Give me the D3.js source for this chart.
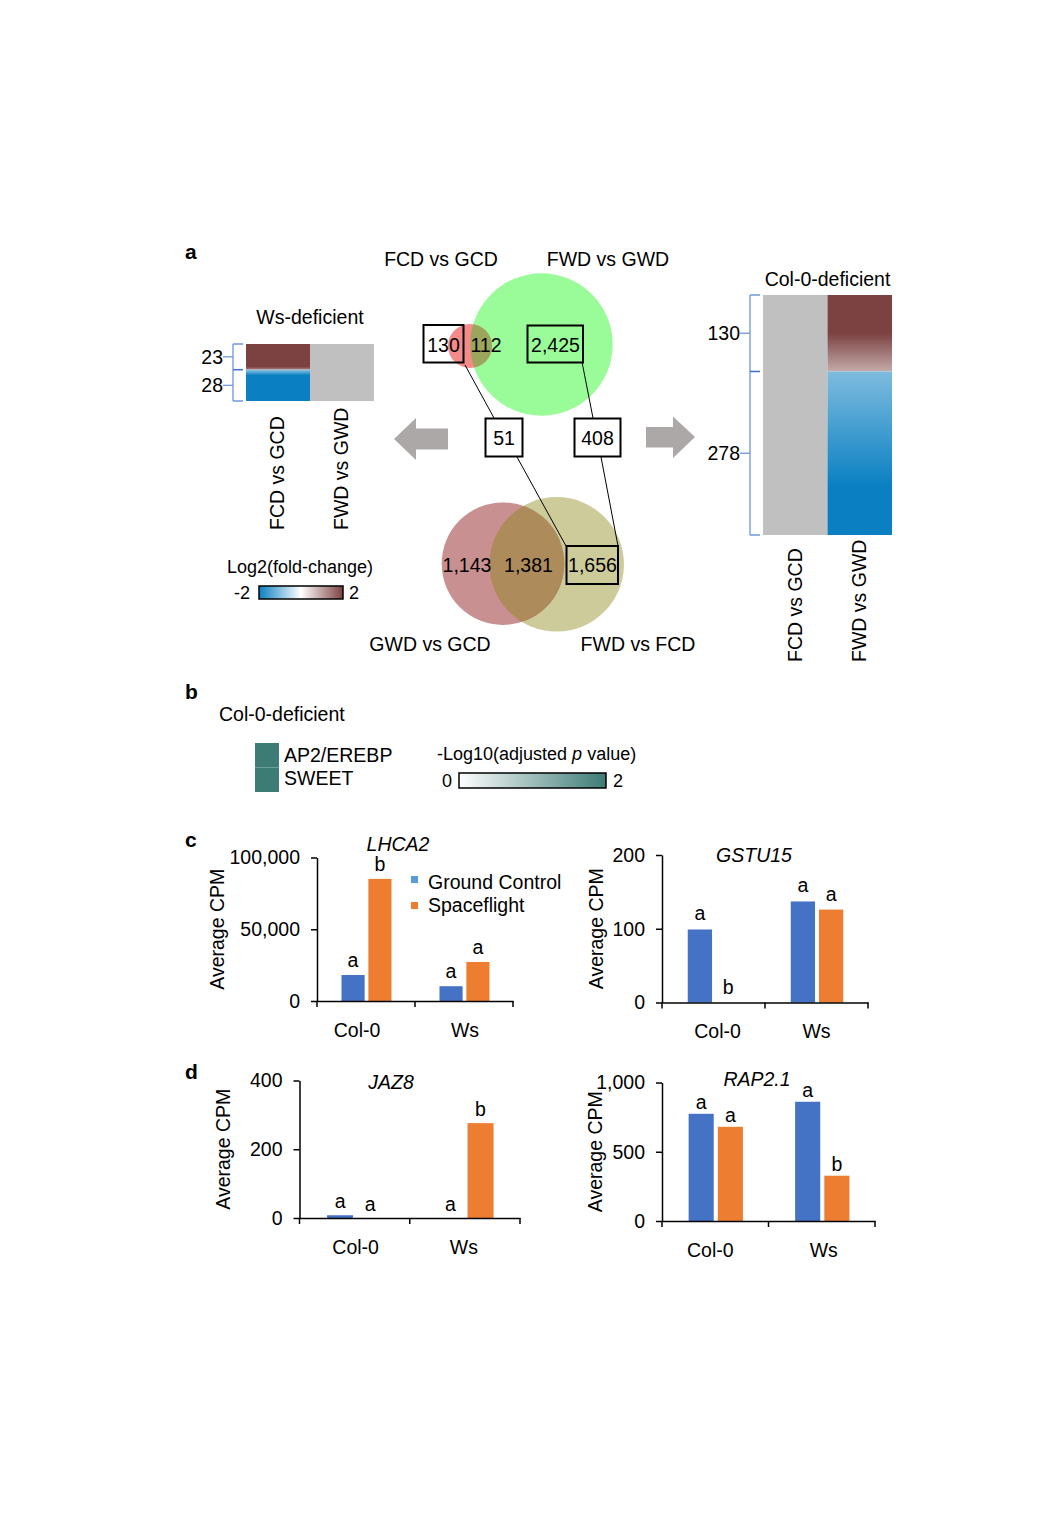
<!DOCTYPE html>
<html><head><meta charset="utf-8">
<script src="https://cdn.jsdelivr.net/npm/d3@7"></script>
<style>
body{margin:0;background:#fff}
svg{display:block}
text{font-family:"Liberation Sans",Arial,Helvetica,sans-serif;fill:#000}
</style>
</head><body>
<svg id="fig" width="1063" height="1535"></svg>
<script>
// ================= DATA =================
// Panel a : Venn diagrams
const vennTopSets = ["FCD vs GCD", "FWD vs GWD"];
const vennTopCounts = [130, 112, 2425];          // only FCD, shared, only FWD
const vennBottomSets = ["GWD vs GCD", "FWD vs FCD"];
const vennBottomCounts = [1143, 1381, 1656];     // only GWD, shared, only FWD
const flowCounts = [51, 408];                    // Ws-deficient, Col-0-deficient
// Panel a : heatmaps
const heatColumns = ["FCD vs GCD", "FWD vs GWD"];
const wsBlockCounts = [23, 28];
const colBlockCounts = [130, 278];
// log2 fold-change profile inside blocks: [fraction of block, value]
const wsFcdUp = [[0, 2], [0.88, 2], [1, 1.3]];
const wsFcdDown = [[0, -0.9], [0.18, -2], [1, -2]];
const colFwdUp = [[0, 2], [0.5, 2], [1, 0.9]];
const colFwdDown = [[0, -1.05], [0.7, -2], [1, -2]];
const log2Range = [-2, 2];
// Panel b
const enrichTerms = ["AP2/EREBP", "SWEET"];
const enrichValues = [2, 2];
const pRange = [0, 2];
// Panel c / d
const groups = ["Col-0", "Ws"];
const seriesNames = ["Ground Control", "Spaceflight"];
const lhca2GC = [18100, 10300], lhca2SF = [85100, 27200];
const lhca2Letters = [["a", "b"], ["a", "a"]];
const lhca2Ticks = [0, 50000, 100000];
const gstu15GC = [99, 137], gstu15SF = [0, 126];
const gstu15Letters = [["a", "b"], ["a", "a"]];
const gstu15Ticks = [0, 100, 200];
const jaz8GC = [8, 0], jaz8SF = [0, 276];
const jaz8Letters = [["a", "a"], ["a", "b"]];
const jaz8Ticks = [0, 200, 400];
const rap21GC = [774, 861], rap21SF = [680, 327];
const rap21Letters = [["a", "a"], ["a", "b"]];
const rap21Ticks = [0, 500, 1000];

// ================= DRAWING =================
const FS = 19.5;
const svg = d3.select("#fig");
const defs = svg.append("defs");

function txt(x, y, s, o = {}) {
  const t = svg.append("text").attr("x", x).attr("y", y).attr("font-size", o.size || FS)
    .attr("text-anchor", o.anchor || "start").text(s);
  if (o.weight) t.attr("font-weight", o.weight);
  if (o.italic) t.attr("font-style", "italic");
  return t;
}
function rotTxt(cx, bottom, s) {
  svg.append("text").attr("transform", `translate(${cx},${bottom}) rotate(-90)`)
    .attr("dy", "0.35em").attr("font-size", FS).attr("text-anchor", "start").text(s);
}

// panel letters
txt(185, 259, "a", {size: 21, weight: "bold"});
txt(185, 699, "b", {size: 21, weight: "bold"});
txt(185, 847, "c", {size: 21, weight: "bold"});
txt(185, 1079, "d", {size: 21, weight: "bold"});

// ---------- color scale ----------
const fcColor = d3.scaleLinear().domain([log2Range[0], 0, log2Range[1]])
  .range(["#0a80c2", "#ffffff", "#7c4141"]);
const NA = "#c0c0c0";

function gradient(id, stops) {
  const lg = defs.append("linearGradient").attr("id", id)
    .attr("x1", 0).attr("y1", 0).attr("x2", 0).attr("y2", 1);
  stops.forEach(([f, v]) => lg.append("stop").attr("offset", f).attr("stop-color", fcColor(v)));
  return `url(#${id})`;
}

// ---------- heatmap ----------
function heatmap(o) {
  const total = d3.sum(o.blocks);
  const y = d3.scaleLinear().domain([0, total]).range([o.y0, o.y1]);
  const x = d3.scaleBand().domain(heatColumns).range([o.x0, o.x1]);
  svg.append("rect").attr("x", x(o.naCol)).attr("y", y(0)).attr("width", x.bandwidth())
    .attr("height", y(total) - y(0)).attr("fill", NA);
  const up = o.blocks[0];
  svg.append("rect").attr("x", x(o.valCol)).attr("y", y(0)).attr("width", x.bandwidth())
    .attr("height", y(up) - y(0)).attr("fill", gradient(o.id + "u", o.upStops));
  svg.append("rect").attr("x", x(o.valCol)).attr("y", y(up)).attr("width", x.bandwidth())
    .attr("height", y(total) - y(up)).attr("fill", gradient(o.id + "d", o.downStops));
  // bracket
  const bx = o.x0 - 13;
  const bc = "#6e97de";
  svg.append("line").attr("x1", bx).attr("x2", bx).attr("y1", y(0)).attr("y2", y(total)).attr("stroke", bc).attr("stroke-width", 1.3);
  [0, up, total].forEach((v, i) => svg.append("line").attr("x1", bx).attr("x2", o.x0 - 3)
    .attr("y1", y(v)).attr("y2", y(v)).attr("stroke", i === 1 ? "#3c6fc8" : bc).attr("stroke-width", 1.5));
  const mids = [up / 2, up + o.blocks[1] / 2];
  mids.forEach((m, i) => {
    svg.append("line").attr("x1", bx - 10).attr("x2", bx).attr("y1", y(m)).attr("y2", y(m)).attr("stroke", bc).attr("stroke-width", 1.3);
    svg.append("text").attr("x", bx - 10).attr("y", y(m)).attr("dy", "0.35em").attr("font-size", FS)
      .attr("text-anchor", "end").text(o.blocks[i]);
  });
  txt((o.x0 + o.x1) / 2, o.titleY, o.title, {anchor: "middle"});
  heatColumns.forEach(c => rotTxt(x(c) + x.bandwidth() / 2 - 0.5, o.labelBottom, c));
}

heatmap({id: "ws", title: "Ws-deficient", titleY: 324, blocks: wsBlockCounts,
  x0: 246, x1: 374, y0: 344, y1: 401, valCol: heatColumns[0], naCol: heatColumns[1],
  upStops: wsFcdUp, downStops: wsFcdDown, labelBottom: 530});
heatmap({id: "col", title: "Col-0-deficient", titleY: 286, blocks: colBlockCounts,
  x0: 763, x1: 892, y0: 295, y1: 535, valCol: heatColumns[1], naCol: heatColumns[0],
  upStops: colFwdUp, downStops: colFwdDown, labelBottom: 662});

// ---------- log2 legend ----------
txt(300, 573, "Log2(fold-change)", {anchor: "middle", size: 18});
const lgX = d3.scaleLinear().domain(log2Range).range([259, 343]);
const lgg = defs.append("linearGradient").attr("id", "lg2");
[-2, -1, 0, 1, 2].forEach(v => lgg.append("stop").attr("offset", (lgX(v) - 259) / 84).attr("stop-color", fcColor(v)));
svg.append("rect").attr("x", lgX(-2)).attr("y", 586).attr("width", lgX(2) - lgX(-2)).attr("height", 13)
  .attr("fill", "url(#lg2)").attr("stroke", "#000").attr("stroke-width", 1.5);
txt(lgX(-2) - 9, 599, String(log2Range[0]), {anchor: "end", size: 18});
txt(lgX(2) + 6, 599, String(log2Range[1]), {size: 18});

// ---------- Venn diagrams ----------
const rTop = d3.scaleSqrt().domain([0, vennTopCounts[0] + vennTopCounts[1]]).range([0, 22]);
const rBot = d3.scaleSqrt().domain([0, vennBottomCounts[0] + vennBottomCounts[1]]).range([0, 61.3]);
function venn(o) {
  const clipId = o.id + "clip";
  defs.append("clipPath").attr("id", clipId).append("circle").attr("cx", o.c1[0]).attr("cy", o.c1[1]).attr("r", o.r1);
  svg.append("circle").attr("cx", o.c2[0]).attr("cy", o.c2[1]).attr("r", o.r2).attr("fill", o.col2);
  svg.append("circle").attr("cx", o.c1[0]).attr("cy", o.c1[1]).attr("r", o.r1).attr("fill", o.col1);
  svg.append("circle").attr("clip-path", `url(#${clipId})`).attr("cx", o.c2[0]).attr("cy", o.c2[1]).attr("r", o.r2).attr("fill", o.colX);
}
const topTotals = [vennTopCounts[0] + vennTopCounts[1], vennTopCounts[1] + vennTopCounts[2]];
venn({id: "vt", c1: [470, 346], r1: rTop(topTotals[0]), c2: [541.5, 344.5], r2: rTop(topTotals[1]),
  col1: "#f48a8a", col2: "#99fc99", colX: "#9ca55c"});
const botTotals = [vennBottomCounts[0] + vennBottomCounts[1], vennBottomCounts[1] + vennBottomCounts[2]];
venn({id: "vb", c1: [503, 563.7], r1: rBot(botTotals[0]), c2: [556.7, 564.3], r2: rBot(botTotals[1]),
  col1: "#c99091", col2: "#cccb99", colX: "#ad8b5a"});

const lines = [[465, 365, 494, 418], [582, 362, 593, 418], [517, 457, 566, 546], [601, 457, 618, 546]];
lines.forEach(l => svg.append("line").attr("x1", l[0]).attr("y1", l[1]).attr("x2", l[2]).attr("y2", l[3])
  .attr("stroke", "#000").attr("stroke-width", 1));

const fmt = d3.format(",");
function box(x0, y0, x1, y1) {
  svg.append("rect").attr("x", x0).attr("y", y0).attr("width", x1 - x0).attr("height", y1 - y0)
    .attr("fill", "none").attr("stroke", "#000").attr("stroke-width", 2);
}
box(423.5, 325, 463.5, 362.5);
box(527.5, 325.5, 583, 362.5);
box(485.5, 418.5, 522.5, 456.5);
box(574.5, 418.5, 620.5, 456.5);
box(566.5, 546, 618, 584);

txt(443.5, 352, fmt(vennTopCounts[0]), {anchor: "middle"});
txt(486, 352, fmt(vennTopCounts[1]), {anchor: "middle"});
txt(555.5, 352, fmt(vennTopCounts[2]), {anchor: "middle"});
txt(504, 445, fmt(flowCounts[0]), {anchor: "middle"});
txt(597.5, 445, fmt(flowCounts[1]), {anchor: "middle"});
txt(467, 572, fmt(vennBottomCounts[0]), {anchor: "middle"});
txt(528.5, 572, fmt(vennBottomCounts[1]), {anchor: "middle"});
txt(592.5, 572, fmt(vennBottomCounts[2]), {anchor: "middle"});

txt(441, 266, vennTopSets[0], {anchor: "middle"});
txt(608, 266, vennTopSets[1], {anchor: "middle"});
txt(430, 651, vennBottomSets[0], {anchor: "middle"});
txt(638, 651, vennBottomSets[1], {anchor: "middle"});

const arrowCol = "#aca8a7";
svg.append("polygon").attr("fill", arrowCol)
  .attr("points", "394,439 416,418 416,428.5 448,428.5 448,449.5 416,449.5 416,460");
svg.append("polygon").attr("fill", arrowCol)
  .attr("points", "695,437 673,416.5 673,427 646,427 646,447.5 673,447.5 673,458");

// ---------- Panel b ----------
txt(219, 721, "Col-0-deficient");
const pColor = d3.scaleLinear().domain(pRange).range(["#ffffff", "#3d7b75"]);
const by = d3.scaleBand().domain(enrichTerms).range([743, 792]);
enrichTerms.forEach((t, i) => {
  svg.append("rect").attr("x", 255).attr("y", by(t)).attr("width", 24).attr("height", by.bandwidth())
    .attr("fill", pColor(enrichValues[i]));
  if (i) svg.append("line").attr("x1", 255).attr("x2", 279).attr("y1", by(t)).attr("y2", by(t))
    .attr("stroke", "#6f9f9a").attr("stroke-width", 0.8);
});
txt(284, 762, enrichTerms[0]);
txt(284, 785, enrichTerms[1]);
const pt = svg.append("text").attr("x", 437).attr("y", 760).attr("font-size", 18);
pt.append("tspan").text("-Log10(adjusted ");
pt.append("tspan").attr("font-style", "italic").text("p");
pt.append("tspan").text(" value)");
const pX = d3.scaleLinear().domain(pRange).range([459, 606]);
const pg = defs.append("linearGradient").attr("id", "pg");
pRange.forEach((v, i) => pg.append("stop").attr("offset", i).attr("stop-color", pColor(v)));
svg.append("rect").attr("x", pX(0)).attr("y", 773).attr("width", pX(2) - pX(0)).attr("height", 15)
  .attr("fill", "url(#pg)").attr("stroke", "#000").attr("stroke-width", 1.5);
txt(pX(0) - 7, 787, String(pRange[0]), {anchor: "end", size: 18});
txt(pX(2) + 7, 787, String(pRange[1]), {size: 18});

// ---------- Bar charts ----------
const barColors = ["#4472c4", "#ed7d31"];
function barChart(o) {
  const g = svg.append("g");
  const y = d3.scaleLinear().domain([0, o.max]).range([o.y0, o.y1]);
  const x0 = d3.scaleBand().domain(groups).range([o.x0, o.x1]);
  const bw = x0.bandwidth();
  const x1 = d3.scaleBand().domain(seriesNames).range([bw * 0.25, bw * 0.76]).paddingInner(0.14);
  groups.forEach((gr, i) => {
    [o.gc[i], o.sf[i]].forEach((v, j) => {
      const xx = x0(gr) + x1(seriesNames[j]);
      if (v > 0) g.append("rect").attr("x", xx).attr("y", y(v)).attr("width", x1.bandwidth())
        .attr("height", y(0) - y(v)).attr("fill", barColors[j]);
      g.append("text").attr("x", xx + x1.bandwidth() / 2).attr("y", y(v) - o.gap)
        .attr("text-anchor", "middle").attr("font-size", FS).text(o.letters[i][j]);
    });
  });
  const ya = g.append("g").attr("transform", `translate(${o.x0},0)`)
    .call(d3.axisLeft(y).tickValues(o.ticks).tickFormat(fmt).tickSize(6).tickSizeOuter(0).tickPadding(11));
  ya.attr("font-size", FS).attr("font-family", null);
  ya.selectAll("path,line").attr("stroke", "#000").attr("stroke-width", 1.5);
  ya.selectAll("text").attr("fill", "#000");
  const xa = g.append("g").attr("transform", `translate(0,${o.y0})`)
    .call(d3.axisBottom(x0).tickSize(0).tickPadding(22));
  xa.attr("font-size", FS).attr("font-family", null);
  xa.select("path").attr("stroke", "#000").attr("stroke-width", 1.5);
  xa.selectAll("text").attr("fill", "#000").attr("dx", (d, i) => o.labShift[i]);
  [o.x0, o.x0 + bw, o.x1].forEach(bx => g.append("line").attr("x1", bx).attr("x2", bx)
    .attr("y1", o.y0).attr("y2", o.y0 + 6).attr("stroke", "#000").attr("stroke-width", 1.5));
  g.append("text").attr("transform", `translate(${o.x0 - o.ylabOff},${(o.y0 + o.y1) / 2}) rotate(-90)`)
    .attr("dy", "0.35em").attr("text-anchor", "middle").attr("font-size", FS).text("Average CPM");
  g.append("text").attr("x", o.titleX).attr("y", o.titleY).attr("text-anchor", "middle")
    .attr("font-size", FS).attr("font-style", "italic").text(o.title);
}

barChart({title: "LHCA2", titleX: 398, titleY: 851, gc: lhca2GC, sf: lhca2SF, letters: lhca2Letters,
  max: 100000, ticks: lhca2Ticks, x0: 317, x1: 513, y0: 1001, y1: 857.5, gap: 8, ylabOff: 100, labShift: [-9, 1]});
barChart({title: "GSTU15", titleX: 754, titleY: 862, gc: gstu15GC, sf: gstu15SF, letters: gstu15Letters,
  max: 200, ticks: gstu15Ticks, x0: 662, x1: 868, y0: 1002.5, y1: 855, gap: 9, ylabOff: 66, labShift: [4, 0]});
barChart({title: "JAZ8", titleX: 391, titleY: 1089, gc: jaz8GC, sf: jaz8SF, letters: jaz8Letters,
  max: 400, ticks: jaz8Ticks, x0: 299.5, x1: 520, y0: 1218, y1: 1080.5, gap: 7, ylabOff: 76, labShift: [1, -1]});
barChart({title: "RAP2.1", titleX: 757, titleY: 1086, gc: rap21GC, sf: rap21SF, letters: rap21Letters,
  max: 1000, ticks: rap21Ticks, x0: 662, x1: 875, y0: 1221, y1: 1082.5, gap: 5, ylabOff: 67, labShift: [-5, 2]});

seriesNames.forEach((s, i) => {
  svg.append("rect").attr("x", 411).attr("y", 876 + i * 26).attr("width", 7).attr("height", 7)
    .attr("fill", i ? "#ed7d31" : "#5b9bd5");
  txt(428, 889 + i * 23, s);
});
</script>
</body></html>
